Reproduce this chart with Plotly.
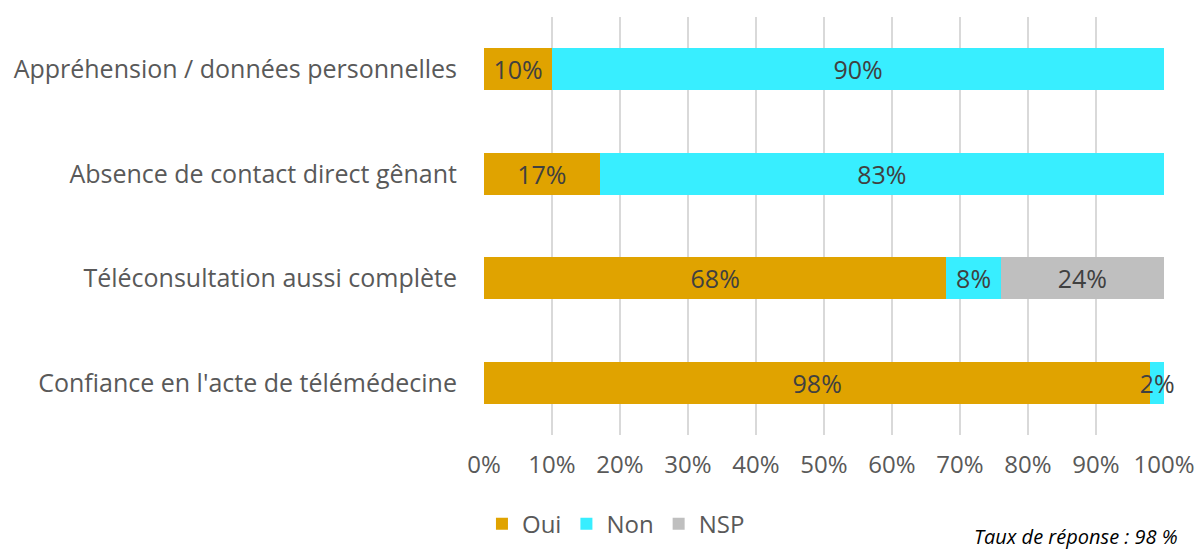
import plotly.graph_objects as go

categories = [
    "Appréhension / données personnelles",
    "Absence de contact direct gênant",
    "Téléconsultation aussi complète",
    "Confiance en l'acte de télémédecine",
]
oui = [10, 17, 68, 98]
non = [90, 83, 8, 2]
nsp = [0, 0, 24, 0]
x_ticks = [0, 10, 20, 30, 40, 50, 60, 70, 80, 90, 100]

FONT = "Open Sans"
TXT = "#404040"

def labels(vals):
    return [f"{v}%" if v > 0 else "" for v in vals]

fig = go.Figure()
for name, vals, color in [("Oui", oui, "#E0A300"), ("Non", non, "#38EEFF"), ("NSP", nsp, "#BFBFBF")]:
    fig.add_trace(go.Bar(
        y=categories, x=vals, name=name, orientation="h",
        marker=dict(color=color, line=dict(width=0)),
        text=labels(vals), textposition="inside", insidetextanchor="middle",
        textangle=0, constraintext="none", cliponaxis=False,
        textfont=dict(family=FONT, size=25, color=TXT),
        hoverinfo="skip",
    ))

fig.update_layout(
    barmode="stack",
    bargap=0.6,
    width=1196, height=549,
    margin=dict(l=484, r=32, t=17, b=114, autoexpand=False),
    plot_bgcolor="white", paper_bgcolor="white",
    font=dict(family=FONT, size=24, color="#595959"),
    showlegend=True,
    legend=dict(orientation="h", x=-0.003, xanchor="left", y=-0.213, yanchor="middle",
                font=dict(family=FONT, size=24, color="#595959"),
                traceorder="normal", itemwidth=30),
    annotations=[dict(
        text="Taux de réponse : 98 %", xref="paper", yref="paper",
        x=1.0235, y=-0.243, xanchor="right", yanchor="middle", showarrow=False,
        font=dict(family=FONT, size=20, color="#000000", style="italic"),
    )],
)
fig.update_xaxes(
    range=[0, 100], tickvals=x_ticks, ticktext=[f"{v}%" for v in x_ticks],
    showgrid=True, gridcolor="#D9D9D9", gridwidth=1.5, zeroline=False,
    showline=False, ticklabelstandoff=13,
    tickfont=dict(family=FONT, size=24, color="#595959"),
)
fig.update_yaxes(
    autorange="reversed", showgrid=False, showline=False, ticks="",
    ticklabelstandoff=26,
    tickfont=dict(family=FONT, size=25, color="#595959"),
)
fig.write_html("out.html")
